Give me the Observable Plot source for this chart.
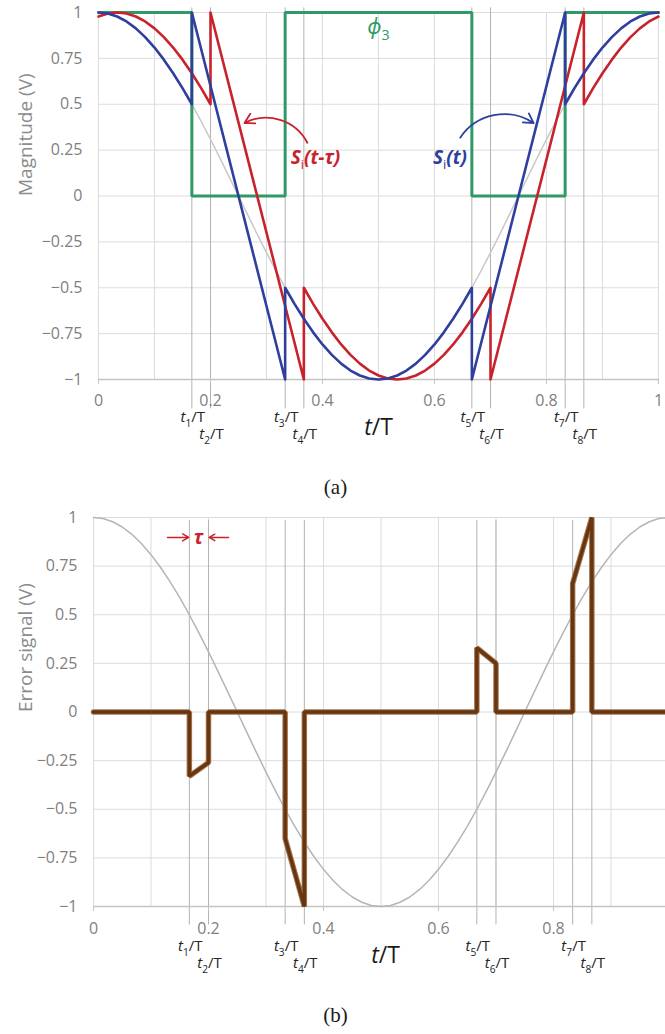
<!DOCTYPE html>
<html>
<head>
<meta charset="utf-8">
<script src="https://cdn.jsdelivr.net/npm/d3@7"></script>
<script src="https://cdn.jsdelivr.net/npm/@observablehq/plot@0.6"></script>
<style>
  html, body { margin: 0; padding: 0; background: #fff; }
  #wrap { position: relative; width: 665px; height: 1034px; overflow: hidden; }
  #wrap > svg { position: absolute; left: 0; }
  .cap { position: absolute; left: 3px; width: 665px; text-align: center;
         font-family: "Liberation Serif", "DejaVu Serif", serif; font-size: 21px;
         line-height: 24px; color: #1a1a1a; }
</style>
</head>
<body>
<div id="wrap"></div>
<script>
// ---------------- data ----------------
const xTicksA = [0, 0.2, 0.4, 0.6, 0.8, 1];
const xTicksB = [0, 0.2, 0.4, 0.6, 0.8];
const yTicks = [-1, -0.75, -0.5, -0.25, 0, 0.25, 0.5, 0.75, 1];
const xGridA = [0, 0.1, 0.2, 0.3, 0.4, 0.5, 0.6, 0.7, 0.8, 0.9, 1];
const xGridB = [0, 0.1, 0.2, 0.3, 0.4, 0.5, 0.6, 0.7, 0.8, 0.9];

// switching instants t1..t8 (in units of T)
const tInstants = [0.1667, 0.2, 0.3333, 0.3667, 0.6667, 0.7, 0.8333, 0.8667];
const tInstantLabels = ["t1/T", "t2/T", "t3/T", "t4/T", "t5/T", "t6/T", "t7/T", "t8/T"];

// reference cosine (light grey)
const refT = [0,0.0167,0.0333,0.05,0.0667,0.0833,0.1,0.1167,0.1333,0.15,0.1667,0.1833,0.2,0.2167,0.2333,0.25,0.2667,0.2833,0.3,0.3167,0.3333,0.35,0.3667,0.3833,0.4,0.4167,0.4333,0.45,0.4667,0.4833,0.5,0.5167,0.5333,0.55,0.5667,0.5833,0.6,0.6167,0.6333,0.65,0.6667,0.6833,0.7,0.7167,0.7333,0.75,0.7667,0.7833,0.8,0.8167,0.8333,0.85,0.8667,0.8833,0.9,0.9167,0.9333,0.95,0.9667,0.9833,1];
const refV = [1,0.9945,0.9781,0.9511,0.9135,0.866,0.809,0.7431,0.6691,0.5878,0.5,0.4067,0.309,0.2079,0.1045,0,-0.1045,-0.2079,-0.309,-0.4067,-0.5,-0.5878,-0.6691,-0.7431,-0.809,-0.866,-0.9135,-0.9511,-0.9781,-0.9945,-1,-0.9945,-0.9781,-0.9511,-0.9135,-0.866,-0.809,-0.7431,-0.6691,-0.5878,-0.5,-0.4067,-0.309,-0.2079,-0.1045,0,0.1045,0.2079,0.309,0.4067,0.5,0.5878,0.6691,0.7431,0.809,0.866,0.9135,0.9511,0.9781,0.9945,1];

// S_i(t) (blue)
const siT = [0,0.0167,0.0333,0.05,0.0667,0.0833,0.1,0.1167,0.1333,0.15,0.1667,
  0.1667,0.3333,
  0.3333,0.35,0.3667,0.3833,0.4,0.4167,0.4333,0.45,0.4667,0.4833,0.5,0.5167,0.5333,0.55,0.5667,0.5833,0.6,0.6167,0.6333,0.65,0.6667,
  0.6667,0.8333,
  0.8333,0.85,0.8667,0.8833,0.9,0.9167,0.9333,0.95,0.9667,0.9833,1];
const siV = [1,0.9945,0.9781,0.9511,0.9135,0.866,0.809,0.7431,0.6691,0.5878,0.5,
  1,-1,
  -0.5,-0.5878,-0.6691,-0.7431,-0.809,-0.866,-0.9135,-0.9511,-0.9781,-0.9945,-1,-0.9945,-0.9781,-0.9511,-0.9135,-0.866,-0.809,-0.7431,-0.6691,-0.5878,-0.5,
  -1,1,
  0.5,0.5878,0.6691,0.7431,0.809,0.866,0.9135,0.9511,0.9781,0.9945,1];

// S_i(t - tau) (red)
const sdT = [0,0.0167,0.0333,0.05,0.0667,0.0833,0.1,0.1167,0.1333,0.15,0.1667,0.1833,0.2,
  0.2,0.3667,
  0.3667,0.3833,0.4,0.4167,0.4333,0.45,0.4667,0.4833,0.5,0.5167,0.5333,0.55,0.5667,0.5833,0.6,0.6167,0.6333,0.65,0.6667,0.6833,0.7,
  0.7,0.8667,
  0.8667,0.8833,0.9,0.9167,0.9333,0.95,0.9667,0.9833,1];
const sdV = [0.9781,0.9945,1,0.9945,0.9781,0.9511,0.9135,0.866,0.809,0.7431,0.6691,0.5878,0.5,
  1,-1,
  -0.5,-0.5878,-0.6691,-0.7431,-0.809,-0.866,-0.9135,-0.9511,-0.9781,-0.9945,-1,-0.9945,-0.9781,-0.9511,-0.9135,-0.866,-0.809,-0.7431,-0.6691,-0.5878,-0.5,
  -1,1,
  0.5,0.5878,0.6691,0.7431,0.809,0.866,0.9135,0.9511,0.9781];

// phi_3 (green)
const phiT = [0,0.1667,0.1667,0.3333,0.3333,0.6667,0.6667,0.8333,0.8333,1];
const phiV = [1,1,0,0,1,1,0,0,1,1];

// error signal (brown)
const errT = [0,0.1667,0.1667,0.2,0.2,0.3333,0.3333,0.3667,0.3667,0.6667,0.6667,0.7,0.7,0.8333,0.8333,0.8667,0.8667,1];
const errV = [0,0,-0.33,-0.26,0,0,-0.65,-1,0,0,0.33,0.25,0,0,0.66,1,0,0];

// annotation anchors (data units)
const annoA = {redText: [0.3875, 0.21], blueText: [0.6275, 0.21], phiText: [0.5, 0.92],
  redArrow: [0.373, 0.29, 0.2607, 0.398], blueArrow: [0.646, 0.318, 0.777, 0.397]};
const annoB = {tauText: [0.1826, 0.8975], arrowL: [0.1287, 0.1655], arrowR: [0.2348, 0.2012]};

// ---------------- helpers ----------------
const FONT = '"Open Sans", "Noto Sans", sans-serif';
const RED = "#c8232c", BLUE = "#2e3f9e", GREEN = "#2f9a66", GRID = "#dcdcdc", AXIS = "#c4c4c4";
const TICKTXT = "#7f7f7f";
const fmt = d => d < 0 ? "\u2212" + String(-d) : String(d);
const rows = (T, V) => T.map((t, i) => ({t, v: V[i]}));
const ref = rows(refT, refV), si = rows(siT, siV), sd = rows(sdT, sdV);
const phi = rows(phiT, phiV), err = rows(errT, errV);
const labelRows = tInstants.map((t, i) => ({t, label: tInstantLabels[i], row: i % 2}));

const SVGNS = "http://www.w3.org/2000/svg";
const richSpecs = {
  "t/T": {fs: 23, parts: [["t", "it"], ["/T", "up"]]},
  "Si(t-τ)": {fs: 19, parts: [["S", ""], ["i", "sub"], ["(t-τ)", ""]]},
  "Si(t)": {fs: 19, parts: [["S", ""], ["i", "sub"], ["(t)", ""]]},
  "ϕ3": {fs: 21, parts: [["ϕ", ""], ["3", "sub"]]}
};
function richify(svg) {
  svg.querySelectorAll("text").forEach(el => {
    const s = el.textContent;
    let spec = richSpecs[s];
    const m = s.match(/^t(\d)\/T$/);
    if (m) spec = {fs: 15, parts: [["t", "it"], [m[1], "sub"], ["/T", "up"]]};
    if (!spec) return;
    const fs = spec.fs;
    el.textContent = "";
    let shift = 0;
    for (const [str, kind] of spec.parts) {
      const ts = document.createElementNS(SVGNS, "tspan");
      ts.textContent = str;
      if (kind === "sub") {
        ts.setAttribute("font-size", (fs * 0.68).toFixed(1));
        ts.setAttribute("dy", (fs * 0.3 - shift).toFixed(1));
        ts.setAttribute("font-style", "normal");
        ts.setAttribute("font-weight", "normal");
        shift = fs * 0.3;
      } else if (shift) {
        ts.setAttribute("dy", (-shift).toFixed(1));
        shift = 0;
      }
      if (kind === "it") ts.setAttribute("font-style", "italic");
      if (kind === "up") ts.setAttribute("font-style", "normal");
      el.appendChild(ts);
    }
  });
}

// ---------------- panel (a) ----------------
const plotA = Plot.plot({
  width: 665, height: 470,
  marginLeft: 98, marginRight: 7, marginTop: 12, marginBottom: 91,
  x: {domain: [0, 1]},
  y: {domain: [-1, 1]},
  style: {fontFamily: FONT, fontSize: "16px", background: "transparent", color: TICKTXT},
  marks: [
    Plot.ruleX(xGridA, {stroke: GRID}),
    Plot.ruleY(yTicks, {stroke: GRID}),
    Plot.ruleX(tInstants, {y1: 1.025, y2: -1.16, stroke: "#b3b3b3"}),
    Plot.ruleY([-1], {stroke: AXIS, strokeWidth: 1.5}),
    Plot.axisX({ticks: xTicksA, tickFormat: fmt, tickSize: 5, tickPadding: 10, stroke: AXIS, fill: TICKTXT, label: null, fontSize: 16}),
    Plot.axisY({ticks: yTicks, tickFormat: fmt, tickSize: 0, tickPadding: 16, fill: TICKTXT, label: null, fontSize: 16}),
    Plot.text(["Magnitude (V)"], {frameAnchor: "left", dx: -73, rotate: -90, fontSize: 19, fill: "#8c8c8c"}),
    Plot.line(ref, {x: "t", y: "v", stroke: "#c9c9c9", strokeWidth: 1.5}),
    Plot.line(phi, {x: "t", y: "v", stroke: GREEN, strokeWidth: 3, strokeLinejoin: "miter"}),
    Plot.line(sd, {x: "t", y: "v", stroke: RED, strokeWidth: 2.6}),
    Plot.line(si, {x: "t", y: "v", stroke: BLUE, strokeWidth: 2.6}),
    Plot.text(labelRows.filter(d => d.row === 0), {x: "t", y: -1, text: "label", dy: 38, dx: 1, fontSize: 15, fill: "#262626"}),
    Plot.text(labelRows.filter(d => d.row === 1), {x: "t", y: -1, text: "label", dy: 55, dx: 1, fontSize: 15, fill: "#262626"}),
    Plot.text(["t/T"], {x: 0.5, y: -1, dy: 48, fontSize: 23, fill: "#1a1a1a"}),
    Plot.text(["Si(t-τ)"], {x: annoA.redText[0], y: annoA.redText[1], fill: RED, fontSize: 19, fontWeight: "bold", fontStyle: "italic"}),
    Plot.text(["Si(t)"], {x: annoA.blueText[0], y: annoA.blueText[1], fill: BLUE, fontSize: 19, fontWeight: "bold", fontStyle: "italic"}),
    Plot.text(["ϕ3"], {x: annoA.phiText[0], y: annoA.phiText[1], fill: GREEN, fontSize: 21, fontStyle: "italic"}),
    Plot.arrow([0], {x1: annoA.redArrow[0], y1: annoA.redArrow[1], x2: annoA.redArrow[2], y2: annoA.redArrow[3], bend: -45, stroke: RED, strokeWidth: 1.8, headLength: 9}),
    Plot.arrow([0], {x1: annoA.blueArrow[0], y1: annoA.blueArrow[1], x2: annoA.blueArrow[2], y2: annoA.blueArrow[3], bend: 45, stroke: BLUE, strokeWidth: 1.8, headLength: 9})
  ]
});

// ---------------- panel (b) ----------------
const plotB = Plot.plot({
  width: 665, height: 475,
  marginLeft: 93, marginRight: 0, marginTop: 12, marginBottom: 74,
  x: {domain: [0, 0.9948]},
  y: {domain: [-1, 1]},
  style: {fontFamily: FONT, fontSize: "16px", background: "transparent", color: TICKTXT},
  marks: [
    Plot.ruleX(xGridB, {stroke: GRID}),
    Plot.ruleY(yTicks, {stroke: GRID}),
    Plot.ruleX(tInstants, {y1: 0.985, y2: -1.095, stroke: "#b3b3b3"}),
    Plot.ruleY([-1], {stroke: AXIS, strokeWidth: 1.5}),
    Plot.axisX({ticks: xTicksB, tickFormat: fmt, tickSize: 5, tickPadding: 11, stroke: AXIS, fill: TICKTXT, label: null, fontSize: 16}),
    Plot.axisY({ticks: yTicks, tickFormat: fmt, tickSize: 0, tickPadding: 16, fill: TICKTXT, label: null, fontSize: 16}),
    Plot.text(["Error signal (V)"], {frameAnchor: "left", dx: -68, rotate: -90, fontSize: 19, fill: "#8c8c8c"}),
    Plot.line(ref, {x: "t", y: "v", stroke: "#b5b5b5", strokeWidth: 1.5}),
    Plot.line(err, {x: "t", y: "v", stroke: "#a27650", strokeWidth: 5.5, strokeLinejoin: "miter"}),
    Plot.line(err, {x: "t", y: "v", stroke: "#673510", strokeWidth: 3.4, strokeLinejoin: "miter"}),
    Plot.text(labelRows.filter(d => d.row === 0), {x: "t", y: -1, text: "label", dy: 40, dx: 1, fontSize: 15, fill: "#262626"}),
    Plot.text(labelRows.filter(d => d.row === 1), {x: "t", y: -1, text: "label", dy: 57, dx: 1, fontSize: 15, fill: "#262626"}),
    Plot.text(["t/T"], {x: 0.508, y: -1, dy: 49, fontSize: 23, fill: "#1a1a1a"}),
    Plot.text(["τ"], {x: annoB.tauText[0], y: annoB.tauText[1], fill: RED, fontSize: 19, fontWeight: "bold", fontStyle: "italic"}),
    Plot.arrow([0], {x1: annoB.arrowL[0], y1: annoB.tauText[1], x2: annoB.arrowL[1], y2: annoB.tauText[1], stroke: RED, strokeWidth: 1.5, headLength: 7}),
    Plot.arrow([0], {x1: annoB.arrowR[0], y1: annoB.tauText[1], x2: annoB.arrowR[1], y2: annoB.tauText[1], stroke: RED, strokeWidth: 1.5, headLength: 7})
  ]
});

richify(plotA);
richify(plotB);

const wrap = document.getElementById("wrap");
plotA.style.top = "0px";
plotB.style.top = "505px";
wrap.appendChild(plotA);
const capA = document.createElement("div");
capA.className = "cap"; capA.style.top = "475px"; capA.textContent = "(a)";
wrap.appendChild(capA);
wrap.appendChild(plotB);
const capB = document.createElement("div");
capB.className = "cap"; capB.style.top = "1003px"; capB.textContent = "(b)";
wrap.appendChild(capB);
</script>
</body>
</html>
